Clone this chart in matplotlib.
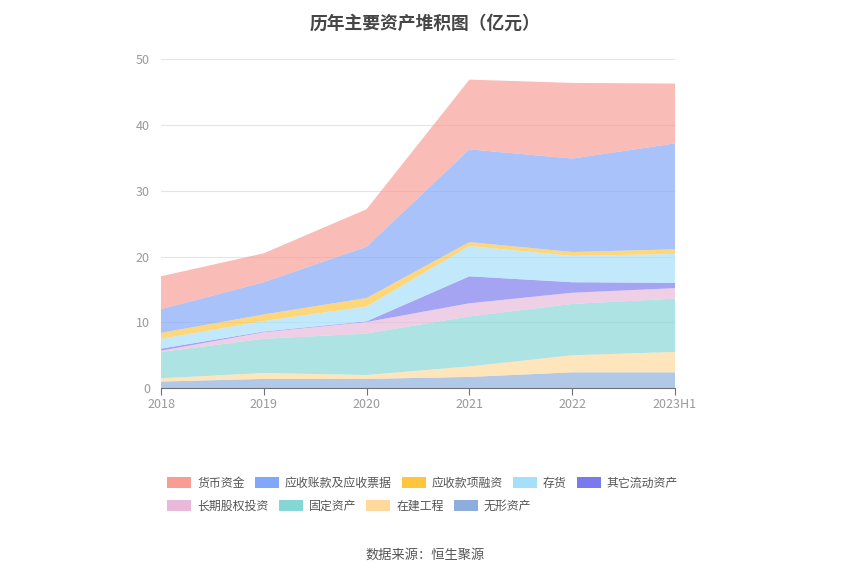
import numpy as np
import matplotlib
matplotlib.use('Agg')
import matplotlib.pyplot as plt
from matplotlib.patches import Patch

plt.rcParams['font.family'] = ['Noto Sans CJK SC', 'DejaVu Sans']

# Data (亿元)
years = ['2018', '2019', '2020', '2021', '2022', '2023H1']
cash = [5.0, 4.4, 5.7, 10.6, 11.5, 9.1]            # 货币资金
receivables = [3.6, 4.9, 7.8, 14.1, 14.2, 16.1]    # 应收账款及应收票据
rec_financing = [0.9, 1.0, 1.3, 0.6, 0.6, 0.7]     # 应收款项融资
inventory = [1.5, 1.6, 2.25, 4.6, 4.0, 4.4]        # 存货
other_current = [0.3, 0.1, 0.1, 4.1, 1.6, 0.8]     # 其它流动资产
lt_equity = [0.2, 1.0, 1.75, 2.0, 1.7, 1.6]        # 长期股权投资
fixed = [4.0, 5.2, 6.3, 7.6, 7.8, 8.1]             # 固定资产
construction = [0.5, 0.9, 0.6, 1.6, 2.6, 3.1]      # 在建工程
intangible = [1.0, 1.4, 1.4, 1.7, 2.4, 2.4]        # 无形资产

names = ['货币资金', '应收账款及应收票据', '应收款项融资', '存货', '其它流动资产',
         '长期股权投资', '固定资产', '在建工程', '无形资产']
series = [cash, receivables, rec_financing, inventory, other_current,
          lt_equity, fixed, construction, intangible]
colors = ['#F89C94', '#82A6F9', '#FFC53D', '#A6DFFA', '#7A79EE',
          '#E8B9D9', '#86D6D6', '#FFD99B', '#8DAEDC']

fig = plt.figure(figsize=(8.5, 5.75), dpi=100)
ax = fig.add_axes([0.1894, 0.325, 0.6047, 0.572])

x = np.arange(len(years))
# stack from the bottom (无形资产) up to 货币资金
ax.stackplot(x, *series[::-1], colors=colors[::-1], alpha=0.68, linewidth=0, zorder=2)

ax.set_xlim(0, len(years) - 1)
ax.set_ylim(0, 50)
ax.set_yticks(range(0, 51, 10))
ax.set_xticks(x)
ax.set_xticklabels(years)
ax.grid(axis='y', color='#E0E6F1', linewidth=0.8, zorder=1)
ax.set_axisbelow(True)
for s in ['top', 'right', 'left']:
    ax.spines[s].set_visible(False)
ax.spines['bottom'].set_color('#6E7079')
ax.spines['bottom'].set_zorder(3)
ax.tick_params(axis='y', length=0, labelsize=9, labelcolor='#999999', pad=8)
ax.tick_params(axis='x', length=5, color='#6E7079', labelsize=9, labelcolor='#999999', pad=2)

fig.text(0.5, 0.975, '历年主要资产堆积图（亿元）', ha='center', va='top',
         fontsize=12.8, fontweight='bold', color='#464646')

handles = [Patch(facecolor=c, edgecolor='none') for c in colors]
leg_kw = dict(frameon=False, fontsize=8.6, handlelength=2.0, handleheight=1.1,
              handletextpad=0.5, columnspacing=0.85, borderpad=0, borderaxespad=0,
              labelcolor='#555555')
leg1 = fig.legend(handles[:5], names[:5], ncol=5, loc='upper left',
                  bbox_to_anchor=(0.197, 0.171), **leg_kw)
leg2 = fig.legend(handles[5:], names[5:], ncol=4, loc='upper left',
                  bbox_to_anchor=(0.197, 0.131), **leg_kw)

fig.text(0.5, 0.035, '数据来源：恒生聚源', ha='center', va='center',
         fontsize=9.5, color='#555555')

fig.savefig('out.png', dpi=100)
